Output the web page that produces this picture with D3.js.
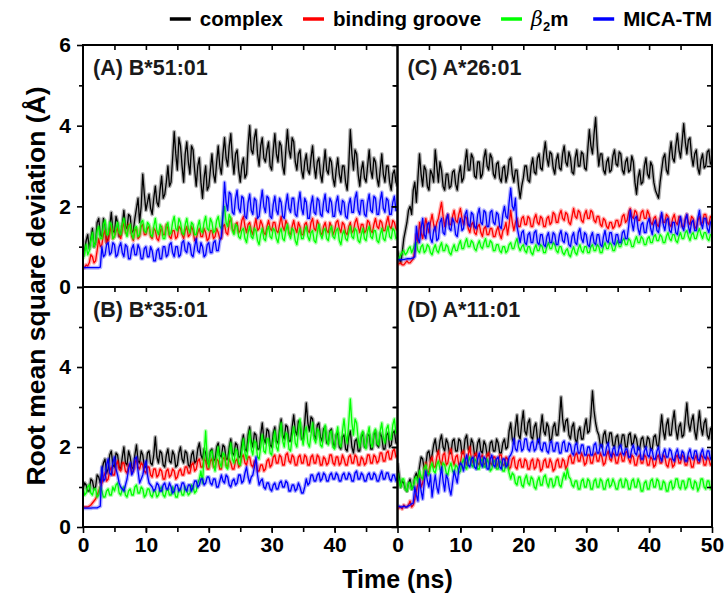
<!DOCTYPE html>
<html><head><meta charset="utf-8">
<script src="https://cdn.jsdelivr.net/npm/d3@7/dist/d3.min.js"></script>
<style>body{margin:0;background:#fff}svg text{font-family:"Liberation Sans",Arial,sans-serif;font-weight:bold}</style>
</head><body>
<svg id="chart" width="724" height="594"></svg>
<script>
// ---- tick labels / categories ----
const panelTitles = ["(A) B*51:01", "(B) B*35:01", "(C) A*26:01", "(D) A*11:01"];
const seriesNames = ["complex", "binding groove", "β2m", "MICA-TM"];
const seriesColors = ["#000000", "#ff0000", "#00ff00", "#0000ff"];
const xTickLabels = [0, 10, 20, 30, 40, 50];
const yTickLabelsTop = [0, 2, 4, 6];
const yTickLabelsBottom = [0, 2, 4];
const timeRange = [0, 50]; // ns; values below are read every 0.25 ns

// ---- (A) B*51:01 ----
const complexA = [0.75,0.9,1.15,1.3,0.95,1.2,1.45,1.0,1.1,1.6,1.7,1.3,1.25,1.7,1.55,1.1,1.2,1.5,1.85,1.4,1.35,1.75,1.6,1.25,1.3,1.55,1.9,1.5,1.45,1.8,1.75,1.35,1.4,1.7,1.95,2.2,1.6,2.0,2.8,2.3,1.9,2.1,2.3,1.95,1.8,2.2,2.5,2.1,2.0,2.4,2.75,2.2,2.3,2.6,3.0,2.5,2.6,3.2,3.85,3.3,2.9,3.7,3.5,3.0,2.6,3.3,3.6,3.1,2.8,3.5,3.4,2.9,2.5,3.0,3.2,2.6,2.2,2.7,3.0,2.4,2.5,2.9,3.3,2.8,2.6,3.1,3.5,3.0,2.8,3.3,3.7,3.2,3.0,3.5,3.8,3.2,2.8,3.3,3.4,2.9,2.6,3.0,3.2,2.7,2.8,3.5,4.0,3.4,3.3,3.7,3.9,3.3,3.0,3.5,3.7,3.2,3.1,3.4,3.6,3.0,2.9,3.4,3.8,3.3,3.1,3.6,3.5,3.0,2.8,3.4,3.9,3.4,3.2,3.7,3.6,3.1,2.9,3.3,3.4,2.9,2.7,3.1,3.3,2.9,2.8,3.2,3.5,3.0,2.7,3.1,3.2,2.8,2.6,3.0,3.4,2.9,2.8,3.2,3.1,2.7,2.5,2.9,3.2,2.8,2.6,3.0,3.0,2.6,2.4,3.0,3.9,3.3,2.9,3.4,3.3,2.8,2.5,2.9,3.1,2.7,2.6,3.0,3.4,2.9,2.7,3.2,3.1,2.7,2.5,2.9,3.3,2.8,2.6,3.0,3.0,2.6,2.4,2.8,2.9,2.6,2.5];
const grooveA = [0.5,0.48,0.55,0.52,0.6,0.8,0.75,0.6,0.65,0.9,1.2,1.0,1.05,1.3,1.4,1.1,1.15,1.35,1.5,1.2,1.25,1.4,1.45,1.3,1.2,1.45,1.6,1.35,1.3,1.55,1.5,1.25,1.15,1.4,1.45,1.2,1.25,1.5,1.55,1.3,1.3,1.45,1.5,1.25,1.2,1.45,1.4,1.2,1.15,1.35,1.5,1.3,1.3,1.55,1.45,1.25,1.2,1.4,1.4,1.2,1.25,1.5,1.45,1.3,1.2,1.4,1.5,1.25,1.3,1.5,1.4,1.15,1.2,1.35,1.45,1.25,1.25,1.45,1.35,1.15,1.2,1.4,1.4,1.2,1.25,1.45,1.35,1.2,1.2,1.5,1.55,1.35,1.3,1.6,1.7,1.45,1.35,1.55,1.6,1.35,1.4,1.65,1.75,1.5,1.35,1.55,1.6,1.4,1.3,1.5,1.7,1.4,1.45,1.65,1.55,1.35,1.3,1.5,1.65,1.45,1.4,1.6,1.6,1.4,1.35,1.55,1.75,1.5,1.4,1.65,1.55,1.35,1.3,1.5,1.65,1.45,1.35,1.6,1.5,1.3,1.3,1.55,1.6,1.4,1.35,1.6,1.7,1.45,1.4,1.65,1.55,1.35,1.3,1.5,1.6,1.4,1.35,1.6,1.5,1.3,1.4,1.6,1.65,1.45,1.35,1.6,1.55,1.35,1.3,1.5,1.6,1.35,1.4,1.6,1.7,1.5,1.35,1.55,1.55,1.35,1.4,1.65,1.6,1.4,1.35,1.55,1.7,1.5,1.45,1.65,1.6,1.4,1.4,1.6,1.75,1.5,1.45,1.65,1.6,1.45,1.4];
const b2mA = [0.7,0.85,1.05,0.8,0.9,1.15,1.35,1.0,1.1,1.4,1.5,1.2,1.2,1.55,1.65,1.3,1.3,1.6,1.55,1.2,1.25,1.45,1.6,1.35,1.3,1.55,1.7,1.4,1.25,1.5,1.55,1.3,1.2,1.45,1.5,1.25,1.3,1.6,1.65,1.4,1.35,1.6,1.55,1.3,1.25,1.5,1.7,1.4,1.3,1.55,1.45,1.2,1.2,1.5,1.6,1.3,1.35,1.6,1.75,1.45,1.4,1.7,1.6,1.35,1.3,1.55,1.7,1.45,1.35,1.6,1.55,1.3,1.3,1.5,1.65,1.4,1.35,1.6,1.75,1.45,1.4,1.7,1.6,1.35,1.4,1.65,1.75,1.5,1.45,1.8,2.0,1.6,1.5,1.8,1.7,1.4,1.3,1.55,1.5,1.25,1.2,1.4,1.45,1.2,1.1,1.35,1.5,1.25,1.2,1.45,1.4,1.15,1.05,1.3,1.45,1.2,1.15,1.4,1.5,1.25,1.2,1.45,1.4,1.2,1.1,1.35,1.45,1.2,1.15,1.4,1.55,1.3,1.2,1.45,1.4,1.15,1.05,1.3,1.45,1.2,1.2,1.4,1.5,1.25,1.15,1.35,1.4,1.15,1.1,1.35,1.55,1.3,1.2,1.4,1.45,1.2,1.15,1.4,1.5,1.25,1.2,1.4,1.45,1.15,1.05,1.3,1.4,1.2,1.15,1.35,1.5,1.25,1.2,1.45,1.4,1.15,1.1,1.3,1.45,1.2,1.15,1.4,1.5,1.25,1.2,1.4,1.4,1.15,1.1,1.3,1.45,1.2,1.15,1.35,1.5,1.25,1.2,1.45,1.4,1.2,1.25];
const micaA = [0.48,0.48,0.48,0.48,0.48,0.48,0.48,0.48,0.48,0.48,0.48,0.49,1.0,0.75,0.8,1.05,1.1,0.8,0.85,1.1,1.05,0.75,0.8,1.0,1.1,0.85,0.75,1.05,1.0,0.7,0.7,0.95,1.05,0.8,0.8,1.05,0.95,0.7,0.7,0.95,1.0,0.75,0.75,1.0,0.9,0.65,0.65,0.9,0.95,0.7,0.7,1.0,1.0,0.75,0.8,1.05,1.1,0.85,0.75,1.0,1.0,0.75,0.8,1.1,1.15,0.9,0.85,1.1,1.05,0.8,0.75,1.0,1.2,0.9,0.85,1.1,1.0,0.75,0.8,1.05,1.1,0.85,0.85,1.1,1.15,0.9,0.9,1.15,1.25,1.8,2.6,2.1,1.9,2.35,2.3,1.85,1.8,2.2,2.4,1.95,1.85,2.25,2.2,1.75,1.7,2.1,2.3,1.9,1.8,2.2,2.15,1.7,1.75,2.1,2.4,2.0,1.85,2.25,2.2,1.75,1.7,2.05,2.25,1.9,1.8,2.2,2.1,1.75,1.7,2.05,2.3,1.95,1.85,2.2,2.2,1.8,1.75,2.1,2.35,1.95,1.8,2.2,2.1,1.7,1.7,2.05,2.25,1.85,1.8,2.2,2.15,1.8,1.75,2.1,2.3,1.9,1.85,2.2,2.1,1.75,1.75,2.1,2.25,1.9,1.8,2.15,2.1,1.75,1.7,2.05,2.2,1.85,1.85,2.2,2.35,1.9,1.8,2.15,2.15,1.8,1.75,2.1,2.3,1.9,1.85,2.25,2.2,1.8,1.8,2.15,2.35,1.95,1.85,2.2,2.15,1.8,1.8,2.1,2.25,1.9,1.9];

// ---- (B) B*35:01 ----
const complexB = [0.95,1.1,1.05,0.9,0.9,1.2,1.15,0.95,1.0,1.3,1.25,1.1,1.4,1.6,1.7,1.35,1.45,1.8,1.9,1.55,1.5,1.85,1.8,1.5,1.45,1.75,2.0,1.6,1.55,1.9,1.75,1.5,1.45,1.8,2.05,1.65,1.6,1.9,1.8,1.5,1.5,1.85,1.9,1.6,1.55,1.8,2.25,1.75,1.6,1.9,1.85,1.55,1.5,1.8,1.95,1.65,1.6,1.9,1.8,1.5,1.55,1.85,2.0,1.7,1.6,1.9,1.85,1.55,1.5,1.8,1.9,1.6,1.65,1.95,2.1,1.8,1.7,1.95,1.85,1.6,1.6,1.9,1.95,1.65,1.7,2.0,2.1,1.8,1.75,2.05,2.0,1.7,1.7,2.0,2.2,1.85,1.8,2.1,2.05,1.75,1.75,2.1,2.3,1.95,1.9,2.3,2.5,2.15,2.0,2.35,2.3,1.95,1.95,2.3,2.6,2.2,2.1,2.45,2.4,2.05,2.0,2.35,2.5,2.15,2.1,2.45,2.7,2.3,2.2,2.55,2.5,2.15,2.15,2.5,2.8,2.4,2.3,2.65,2.6,2.2,2.2,2.6,3.1,2.6,2.4,2.75,2.7,2.3,2.2,2.55,2.6,2.25,2.15,2.45,2.5,2.1,2.1,2.4,2.45,2.1,2.0,2.3,2.35,2.0,1.95,2.25,2.3,1.95,1.9,2.25,2.4,2.0,1.85,2.15,2.2,1.9,1.9,2.25,2.35,2.0,2.0,2.3,2.3,1.95,1.95,2.3,2.4,2.05,2.0,2.35,2.25,1.95,1.95,2.3,2.35,2.0,2.05,2.35,2.4,2.1,2.1];
const grooveB = [0.5,0.5,0.5,0.5,0.52,0.55,0.6,0.65,0.7,0.8,0.9,1.0,1.1,1.25,1.35,1.15,1.2,1.4,1.5,1.3,1.3,1.55,1.65,1.45,1.4,1.6,1.6,1.4,1.35,1.55,1.55,1.35,1.4,1.6,1.7,1.5,1.45,1.6,1.55,1.4,1.35,1.5,1.5,1.3,1.25,1.45,1.45,1.25,1.3,1.45,1.4,1.2,1.2,1.4,1.45,1.25,1.3,1.45,1.4,1.2,1.25,1.4,1.45,1.3,1.3,1.5,1.5,1.35,1.35,1.55,1.6,1.4,1.45,1.65,1.7,1.5,1.5,1.7,1.65,1.45,1.45,1.65,1.7,1.5,1.5,1.7,1.65,1.45,1.45,1.7,1.75,1.55,1.5,1.7,1.6,1.45,1.45,1.65,1.7,1.5,1.55,1.75,1.8,1.6,1.55,1.75,1.75,1.55,1.5,1.65,1.6,1.4,1.4,1.55,1.55,1.4,1.45,1.65,1.7,1.5,1.55,1.75,1.8,1.6,1.6,1.8,1.75,1.55,1.55,1.8,1.85,1.65,1.6,1.8,1.75,1.55,1.55,1.75,1.8,1.6,1.6,1.8,1.75,1.55,1.55,1.75,1.8,1.6,1.6,1.8,1.75,1.55,1.55,1.75,1.7,1.55,1.6,1.8,1.8,1.6,1.55,1.75,1.75,1.55,1.6,1.8,1.7,1.55,1.55,1.75,1.8,1.6,1.6,1.8,1.75,1.55,1.55,1.75,1.7,1.55,1.6,1.8,1.8,1.6,1.6,1.8,1.75,1.6,1.65,1.85,1.85,1.65,1.65,1.85,1.9,1.7,1.7,1.9,1.95,1.75,1.8];
const b2mB = [1.0,0.8,0.85,1.0,1.05,0.85,0.8,0.95,0.95,0.75,0.8,1.0,0.9,0.75,0.75,0.9,0.95,0.8,0.8,1.0,0.9,1.05,1.1,0.85,0.8,0.95,1.0,0.8,0.75,0.9,0.95,0.8,0.8,1.0,1.05,0.85,0.85,1.0,0.95,0.75,0.8,0.95,0.95,0.8,0.75,0.9,0.9,0.75,0.8,0.95,1.0,0.8,0.75,0.9,0.95,0.8,0.8,1.0,0.9,0.75,0.75,0.95,0.95,0.8,0.8,1.0,0.9,0.8,0.85,1.05,1.0,0.85,0.9,1.1,1.2,1.4,1.1,1.8,2.4,1.7,1.5,1.85,1.9,1.55,1.4,1.75,2.0,1.6,1.5,1.85,1.8,1.5,1.45,1.8,2.1,1.7,1.6,1.95,1.9,1.6,1.55,1.9,2.2,1.85,1.7,2.05,2.4,1.95,1.8,2.15,2.1,1.75,1.7,2.0,2.3,1.9,1.85,2.2,2.2,1.85,1.8,2.15,2.4,2.0,1.9,2.3,2.6,2.15,2.0,2.35,2.3,1.95,1.9,2.25,2.5,2.1,2.0,2.4,2.7,2.3,2.05,2.35,2.5,2.1,2.0,2.3,2.6,2.2,2.1,2.45,2.4,2.05,2.0,2.3,2.55,2.2,2.05,2.35,2.4,2.0,1.95,2.3,2.5,2.1,2.0,2.4,2.7,2.3,2.1,2.6,3.2,2.6,2.3,2.7,2.6,2.2,2.0,2.3,2.4,2.05,1.95,2.3,2.5,2.1,2.0,2.35,2.45,2.1,2.05,2.4,2.6,2.25,2.1,2.45,2.55,2.2,2.2,2.55,2.7,2.35,2.4];
const micaB = [0.47,0.47,0.47,0.47,0.47,0.47,0.48,0.48,0.48,0.48,0.5,0.52,1.5,1.15,1.2,1.55,1.7,1.35,1.3,1.6,1.75,1.45,1.3,1.1,1.0,0.95,0.9,1.05,1.2,1.45,1.6,1.3,1.4,1.7,1.75,1.4,1.1,1.2,1.3,1.5,1.65,1.3,1.1,1.05,1.0,0.9,0.95,1.1,1.05,0.9,0.9,1.05,1.1,0.95,0.95,1.1,1.0,0.85,0.9,1.05,1.05,0.9,0.95,1.1,1.1,0.95,0.9,1.05,1.05,0.9,1.0,1.15,1.15,1.0,1.05,1.2,1.2,1.05,1.1,1.25,1.25,1.1,1.05,1.2,1.2,1.0,1.0,1.15,1.3,1.15,1.1,1.3,1.25,1.05,1.0,1.15,1.2,1.05,1.1,1.3,1.3,1.1,1.15,1.35,1.5,1.25,1.1,1.25,1.3,1.5,1.75,1.3,1.05,1.15,1.2,1.0,0.95,1.1,1.1,0.95,0.9,1.05,1.1,0.95,0.95,1.1,1.15,1.0,1.0,1.15,1.1,0.9,0.9,1.05,1.05,0.9,0.95,1.1,1.0,0.85,0.85,1.0,1.2,1.05,1.1,1.3,1.3,1.15,1.15,1.3,1.35,1.15,1.2,1.35,1.3,1.15,1.15,1.3,1.35,1.2,1.2,1.35,1.3,1.15,1.15,1.3,1.35,1.2,1.2,1.35,1.3,1.15,1.15,1.35,1.4,1.2,1.2,1.35,1.3,1.15,1.15,1.3,1.35,1.2,1.2,1.35,1.3,1.15,1.15,1.3,1.4,1.2,1.2,1.35,1.35,1.2,1.15,1.3,1.3,1.15,1.25];

// ---- (C) A*26:01 ----
const complexC = [0.9,0.7,0.6,0.85,1.2,1.4,1.6,1.9,2.0,1.8,2.4,2.6,2.1,2.7,3.3,2.8,2.5,3.0,2.9,2.5,2.4,2.9,2.8,2.6,3.4,3.0,2.6,3.1,2.9,2.5,2.4,2.8,2.8,2.45,2.5,2.85,2.9,2.55,2.4,2.8,3.0,2.6,2.7,3.1,3.4,2.9,2.9,3.3,3.2,2.75,2.7,3.1,3.1,2.7,2.8,3.2,3.4,3.0,2.9,3.3,3.2,2.8,2.7,3.05,3.1,2.7,2.6,2.95,3.0,2.6,2.8,3.15,3.2,2.8,2.6,2.9,2.9,2.5,2.2,2.5,2.7,3.0,3.0,2.65,2.6,3.0,3.2,2.85,2.8,3.2,3.3,2.95,2.9,3.3,3.6,3.2,3.0,3.35,3.3,2.95,2.8,3.15,3.3,2.95,2.9,3.3,3.5,3.1,3.0,3.35,3.2,2.85,2.8,3.2,3.4,3.0,3.0,3.35,3.3,2.95,2.9,3.4,3.9,3.5,3.3,3.8,4.2,3.5,3.0,3.3,3.3,2.9,2.8,3.1,3.2,2.85,2.9,3.25,3.4,3.05,3.0,3.35,3.3,2.9,2.8,3.1,3.2,2.85,2.9,3.25,3.1,2.6,2.3,2.7,2.9,2.55,2.6,3.0,3.2,2.8,2.7,3.1,3.0,2.6,2.4,2.3,2.2,2.6,2.9,3.2,3.3,2.9,2.8,3.3,3.6,3.2,3.1,3.5,3.8,3.4,3.2,3.6,4.05,3.6,3.3,3.65,3.7,3.25,3.0,3.3,3.4,2.95,2.8,3.15,3.3,2.95,3.0,3.35,3.4,3.05,3.1];
const grooveC = [0.55,0.58,0.6,0.55,0.55,0.6,0.65,0.6,0.6,0.65,0.7,0.9,1.3,1.1,1.6,1.35,1.2,1.45,1.7,1.5,1.35,1.6,1.8,1.55,1.4,1.6,1.7,1.9,2.1,1.75,1.5,1.7,1.8,1.55,1.55,1.75,1.9,1.65,1.6,1.8,1.95,1.7,1.55,1.75,1.7,1.45,1.35,1.55,1.6,1.35,1.3,1.5,1.55,1.35,1.25,1.45,1.5,1.3,1.3,1.45,1.45,1.25,1.25,1.4,1.5,1.3,1.2,1.4,1.45,1.6,1.3,1.55,1.9,1.6,1.4,1.6,1.7,1.5,1.5,1.7,1.75,1.55,1.55,1.75,1.7,1.5,1.5,1.7,1.8,1.6,1.55,1.75,1.7,1.5,1.5,1.7,1.75,1.55,1.6,1.85,1.8,1.6,1.6,1.8,1.9,1.7,1.65,1.85,1.8,1.6,1.55,1.75,1.95,1.75,1.7,1.9,1.85,1.65,1.6,1.8,1.9,1.7,1.7,1.9,1.85,1.65,1.6,1.75,1.75,1.55,1.5,1.7,1.65,1.5,1.45,1.6,1.6,1.45,1.5,1.65,1.65,1.5,1.55,1.75,1.8,1.6,1.65,1.85,1.95,1.75,1.7,1.9,1.85,1.65,1.65,1.85,1.9,1.7,1.7,1.9,1.8,1.6,1.55,1.7,1.75,1.55,1.5,1.7,1.8,1.6,1.6,1.8,1.75,1.55,1.5,1.7,1.8,1.6,1.55,1.75,1.7,1.5,1.5,1.7,1.8,1.6,1.55,1.75,1.7,1.5,1.45,1.65,1.75,1.55,1.6,1.8,1.8,1.6,1.55,1.75,1.7];
const b2mC = [0.75,0.7,0.8,0.85,0.9,0.8,0.85,0.95,1.0,0.85,0.95,1.05,1.1,0.9,0.85,1.0,1.05,0.85,0.9,1.05,1.0,0.85,0.8,0.95,1.05,0.9,0.85,1.0,1.1,0.9,0.9,1.05,1.0,0.85,0.8,0.95,1.05,0.9,0.9,1.05,1.15,0.95,0.95,1.1,1.2,1.0,1.0,1.15,1.1,0.95,0.9,1.05,1.15,1.0,0.95,1.1,1.2,1.0,1.0,1.15,1.1,0.9,0.9,1.05,1.05,0.9,0.85,1.0,1.0,0.85,0.9,1.05,1.1,0.95,0.95,1.1,1.2,1.0,0.9,1.0,1.05,0.9,0.85,1.0,1.0,0.85,0.8,0.95,1.05,0.9,0.9,1.05,1.0,0.85,0.85,1.0,1.1,0.95,0.95,1.1,1.05,0.9,0.85,1.0,1.0,0.85,0.8,0.9,0.95,0.8,0.75,0.9,1.0,0.85,0.8,0.95,1.05,0.9,0.85,1.0,1.0,0.85,0.85,1.0,1.05,0.9,0.9,1.05,1.0,0.85,0.85,1.0,1.1,0.95,0.95,1.1,1.05,0.9,0.9,1.05,1.15,1.0,1.0,1.15,1.2,1.05,1.05,1.2,1.15,1.0,1.0,1.15,1.25,1.1,1.1,1.25,1.2,1.05,1.05,1.2,1.25,1.1,1.1,1.25,1.3,1.15,1.15,1.3,1.25,1.1,1.1,1.25,1.35,1.2,1.15,1.3,1.3,1.15,1.1,1.25,1.35,1.2,1.2,1.35,1.4,1.25,1.15,1.3,1.35,1.2,1.2,1.35,1.45,1.3,1.2,1.35,1.35,1.2,1.15,1.3,1.3];
const micaC = [0.68,0.68,0.68,0.68,0.68,0.69,0.7,0.7,0.7,0.71,0.72,0.75,1.5,1.2,1.1,1.45,1.7,1.3,1.2,1.55,1.6,1.2,1.1,1.4,1.5,1.15,1.2,1.6,1.7,1.35,1.3,1.65,1.8,1.45,1.4,1.7,1.6,1.3,1.25,1.55,1.7,1.4,1.45,1.8,1.9,1.55,1.5,1.85,1.8,1.5,1.45,1.8,1.95,1.6,1.55,1.9,1.85,1.5,1.5,1.85,1.9,1.6,1.55,1.85,1.8,1.5,1.45,1.8,2.0,1.75,1.7,2.1,2.45,2.0,1.9,2.2,1.5,1.3,1.1,1.35,1.4,1.1,1.05,1.3,1.35,1.1,1.1,1.35,1.4,1.1,1.05,1.3,1.3,1.05,1.0,1.25,1.35,1.1,1.1,1.35,1.3,1.05,1.05,1.3,1.4,1.15,1.1,1.35,1.3,1.05,1.0,1.25,1.35,1.1,1.05,1.35,1.45,1.2,1.1,1.35,1.3,1.05,1.0,1.25,1.35,1.1,1.05,1.3,1.3,1.05,1.0,1.25,1.4,1.15,1.1,1.35,1.35,1.1,1.05,1.3,1.3,1.1,1.1,1.35,1.4,1.2,1.2,1.5,1.9,1.6,1.4,1.7,1.75,1.45,1.3,1.55,1.6,1.35,1.35,1.6,1.7,1.45,1.3,1.55,1.65,1.4,1.35,1.6,1.85,1.55,1.4,1.65,1.7,1.4,1.35,1.6,1.6,1.35,1.3,1.55,1.75,1.5,1.4,1.65,1.8,1.5,1.35,1.6,1.65,1.4,1.4,1.7,1.9,1.6,1.45,1.7,1.7,1.45,1.35,1.6,1.65];

// ---- (D) A*11:01 ----
const complexD = [1.6,1.3,1.0,1.15,1.1,0.95,0.9,1.1,1.2,0.95,1.0,1.25,1.35,1.2,1.5,1.75,1.7,1.45,1.55,1.85,1.9,1.65,1.8,2.05,2.2,1.9,1.85,2.15,2.3,2.0,1.9,2.2,2.1,1.85,1.85,2.15,2.2,1.9,1.9,2.2,2.15,1.85,1.85,2.2,2.3,1.95,1.9,2.2,2.1,1.8,1.8,2.1,2.2,1.9,1.85,2.15,2.05,1.8,1.8,2.1,2.15,1.9,1.9,2.2,2.1,1.85,1.85,2.1,2.2,1.95,2.0,2.4,2.6,2.2,2.1,2.5,2.8,2.3,2.2,2.6,2.9,2.4,2.3,2.6,2.7,2.25,2.2,2.5,2.6,2.2,2.1,2.45,2.8,2.4,2.3,2.6,2.5,2.15,2.2,2.5,2.6,2.3,2.3,2.7,3.25,2.7,2.4,2.65,2.7,2.3,2.2,2.5,2.6,2.2,2.1,2.4,2.5,2.2,2.2,2.5,2.7,2.35,2.4,2.8,3.4,2.9,2.6,2.4,2.3,2.05,2.0,2.3,2.4,2.1,2.1,2.35,2.35,2.05,2.0,2.25,2.3,2.0,2.05,2.3,2.3,2.0,2.0,2.3,2.35,2.05,2.1,2.3,2.2,1.95,1.95,2.2,2.25,2.0,2.0,2.25,2.2,1.95,1.95,2.25,2.3,2.05,2.0,2.4,2.8,2.4,2.2,2.55,2.7,2.3,2.3,2.65,2.9,2.45,2.2,2.5,2.6,2.25,2.3,2.7,3.1,2.6,2.4,2.65,2.8,2.4,2.2,2.55,2.9,2.5,2.3,2.6,2.7,2.3,2.2,2.45,2.5];
const grooveD = [0.45,0.48,0.5,0.45,0.55,0.5,0.5,0.55,0.65,0.5,0.55,0.7,0.9,1.1,1.3,1.0,1.1,1.4,1.6,1.3,1.4,1.65,1.75,1.5,1.5,1.75,1.9,1.65,1.55,1.8,1.85,1.55,1.6,1.85,1.95,1.7,1.55,1.75,1.8,1.55,1.6,1.85,1.9,1.65,1.55,1.8,2.0,1.7,1.6,1.8,1.85,1.6,1.55,1.75,1.8,1.55,1.6,1.8,1.85,1.6,1.55,1.75,1.75,1.5,1.6,1.8,1.8,1.55,1.55,1.75,1.7,1.45,1.5,1.7,1.75,1.5,1.45,1.65,1.7,1.5,1.5,1.7,1.65,1.45,1.45,1.65,1.7,1.45,1.5,1.7,1.65,1.4,1.45,1.65,1.7,1.5,1.5,1.7,1.6,1.4,1.45,1.65,1.7,1.5,1.5,1.7,1.65,1.45,1.55,1.75,1.8,1.6,1.6,1.8,1.85,1.65,1.65,1.85,1.75,1.55,1.6,1.8,1.8,1.6,1.6,1.8,1.85,1.65,1.65,1.85,1.75,1.55,1.6,1.8,1.9,1.7,1.65,1.85,1.8,1.6,1.6,1.8,1.85,1.65,1.65,1.85,1.9,1.7,1.6,1.8,1.75,1.55,1.55,1.75,1.8,1.6,1.6,1.8,1.75,1.55,1.55,1.75,1.7,1.5,1.55,1.75,1.8,1.6,1.6,1.8,1.75,1.55,1.5,1.7,1.7,1.5,1.55,1.75,1.8,1.6,1.6,1.8,1.75,1.55,1.55,1.75,1.7,1.5,1.5,1.7,1.8,1.6,1.6,1.8,1.75,1.55,1.55,1.75,1.7,1.55,1.6];
const b2mD = [1.35,1.15,1.0,1.2,1.2,0.95,0.9,1.1,1.1,0.95,1.0,1.2,1.25,1.1,1.4,1.25,1.2,1.45,1.55,1.35,1.3,1.5,1.6,1.4,1.35,1.55,1.65,1.45,1.4,1.6,1.55,1.35,1.3,1.5,1.6,1.4,1.35,1.55,1.5,1.35,1.4,1.6,1.7,1.5,1.45,1.65,1.75,1.55,1.5,1.7,1.65,1.45,1.45,1.65,1.7,1.5,1.5,1.7,1.6,1.4,1.45,1.65,1.65,1.45,1.45,1.65,1.6,1.4,1.4,1.6,1.55,1.35,1.2,1.35,1.3,1.1,1.05,1.25,1.25,1.05,1.0,1.2,1.3,1.1,1.05,1.25,1.2,1.0,0.95,1.15,1.25,1.05,1.05,1.25,1.3,1.1,1.0,1.2,1.2,1.0,1.05,1.25,1.25,1.05,1.0,1.2,1.35,1.2,1.45,1.25,1.2,1.05,1.0,1.15,1.15,0.95,0.95,1.15,1.2,1.0,1.0,1.2,1.15,0.95,0.95,1.15,1.2,1.0,1.0,1.2,1.15,0.95,0.95,1.15,1.2,1.0,1.05,1.2,1.1,0.95,0.95,1.15,1.2,1.0,1.0,1.2,1.15,0.95,0.95,1.15,1.2,1.0,1.0,1.2,1.1,0.9,0.9,1.1,1.15,0.95,0.95,1.15,1.2,1.0,1.0,1.2,1.15,0.95,0.95,1.15,1.1,0.9,0.9,1.1,1.15,0.95,1.0,1.2,1.2,1.0,0.95,1.15,1.15,0.95,1.0,1.2,1.2,1.0,0.95,1.15,1.1,0.9,1.0,1.2,1.2,1.0,0.95,1.15,1.15,0.95,1.05];
const micaD = [0.5,0.52,0.5,0.5,0.52,0.5,0.5,0.53,0.55,0.58,0.6,1.0,0.8,0.65,1.2,0.9,0.7,1.1,1.4,1.15,1.0,1.3,0.75,1.05,1.3,1.0,0.85,1.2,1.5,1.15,0.9,1.3,1.2,0.95,0.8,1.1,1.4,1.25,1.1,1.45,1.6,1.55,1.4,1.65,1.8,1.55,1.5,1.7,1.75,1.5,1.45,1.7,1.85,1.6,1.5,1.75,1.7,1.45,1.45,1.7,1.8,1.55,1.5,1.7,1.75,1.5,1.45,1.7,1.7,1.5,1.55,1.75,1.8,1.9,2.2,1.95,1.9,2.15,2.15,1.9,1.95,2.2,2.2,1.95,1.9,2.1,2.15,1.9,1.95,2.15,2.2,1.95,1.9,2.1,2.1,1.9,1.85,2.1,2.15,1.9,1.9,2.1,2.1,1.85,1.85,2.1,2.15,1.9,1.9,2.1,2.05,1.85,1.8,2.05,2.1,1.85,1.85,2.05,2.05,1.8,1.8,2.0,2.0,1.8,1.8,2.05,2.1,1.85,1.85,2.05,2.05,1.8,1.8,2.0,2.1,1.85,1.75,1.95,2.0,1.8,1.8,2.0,2.05,1.85,1.8,1.95,1.95,1.75,1.75,1.95,2.05,1.85,1.8,2.0,1.95,1.7,1.7,1.9,2.0,1.8,1.75,1.95,1.9,1.7,1.7,1.9,2.0,1.75,1.65,1.85,1.95,1.75,1.75,1.95,1.9,1.7,1.65,1.85,1.95,1.75,1.7,1.9,1.85,1.65,1.65,1.85,1.95,1.75,1.7,1.9,1.9,1.7,1.65,1.85,1.95,1.75,1.7,1.9,1.9,1.7,1.75];

const panelData = [
  [complexA, grooveA, b2mA, micaA],
  [complexB, grooveB, b2mB, micaB],
  [complexC, grooveC, b2mC, micaC],
  [complexD, grooveD, b2mD, micaD]
];

// ---- layout ----
const svg = d3.select("#chart");
const FONT = 21;
const L = 83, M = 397.5, R = 712, T = 45, MID = 287, B = 527;
const colX = [[L, M], [M, R]];
const rowY = [[MID, T], [B, MID]];
const panelPos = [[0,0],[0,1],[1,0],[1,1]]; // A, B, C, D

panelPos.forEach(([c, r], pi) => {
  const x = d3.scaleLinear().domain(timeRange).range(colX[c]);
  const y = d3.scaleLinear().domain([0, 6]).range(rowY[r]);
  const g = svg.append("g");
  const clipId = "clip" + pi;
  svg.append("clipPath").attr("id", clipId).append("rect")
    .attr("x", colX[c][0]).attr("y", rowY[r][1])
    .attr("width", colX[c][1] - colX[c][0]).attr("height", rowY[r][0] - rowY[r][1]);
  const lg = g.append("g").attr("clip-path", `url(#${clipId})`);
  panelData[pi].forEach((vals, si) => {
    const idxToTime = d3.scaleLinear().domain([0, vals.length - 1]).range(timeRange);
    const line = d3.line().x((d, i) => x(idxToTime(i))).y(d => y(d));
    // soft halo + core stroke to mimic the dense noisy traces
    lg.append("path").datum(vals).attr("d", line)
      .attr("fill", "none").attr("stroke", seriesColors[si])
      .attr("stroke-width", 4).attr("stroke-opacity", 0.3).attr("stroke-linejoin", "round");
    lg.append("path").datum(vals).attr("d", line)
      .attr("fill", "none").attr("stroke", seriesColors[si])
      .attr("stroke-width", 1.3).attr("stroke-linejoin", "round");
  });
  g.append("rect").attr("x", colX[c][0]).attr("y", rowY[r][1])
    .attr("width", colX[c][1] - colX[c][0]).attr("height", rowY[r][0] - rowY[r][1])
    .attr("fill", "none").attr("stroke", "#000").attr("stroke-width", 2);
  g.append("text").attr("x", x(0) + 10).attr("y", y(6) + 30)
    .attr("font-size", 21.5).attr("fill", "#1a1a1a").text(panelTitles[pi]);

  const noDomain = sel => sel.select(".domain").remove();
  const styleTicks = sel => { sel.selectAll("line").attr("stroke", "#000").attr("stroke-width", 1.6); };
  const yLabels = r === 0 ? yTickLabelsTop : yTickLabelsBottom;
  const lt = g.append("g").attr("transform", `translate(${colX[c][0]},0)`)
    .call(d3.axisLeft(y).tickValues([0,2,4,6]).tickSize(6)
      .tickFormat(d => (c === 0 && yLabels.includes(d)) ? d : ""));
  noDomain(lt); styleTicks(lt);
  lt.selectAll("text").attr("font-size", FONT).attr("fill", "#000").attr("dx", "-3");
  const lm = g.append("g").attr("transform", `translate(${colX[c][0]},0)`)
    .call(d3.axisLeft(y).tickValues([1,3,5]).tickSize(4).tickFormat(""));
  noDomain(lm); styleTicks(lm);
  const rt = g.append("g").attr("transform", `translate(${colX[c][1]},0)`)
    .call(d3.axisRight(y).tickValues([1,2,3,4,5]).tickSize(-5).tickFormat(""));
  noDomain(rt); styleTicks(rt);
  if (r === 0) {
    const tt = g.append("g").attr("transform", `translate(0,${rowY[r][1]})`)
      .call(d3.axisTop(x).tickValues(d3.range(5, 50, 5)).tickSize(-5).tickFormat(""));
    noDomain(tt); styleTicks(tt);
  }
  const bt = g.append("g").attr("transform", `translate(0,${rowY[r][0]})`)
    .call(d3.axisBottom(x).tickValues(d3.range(5, 50, 5)).tickSize(5).tickFormat(""));
  noDomain(bt); styleTicks(bt);
  if (r === 1) {
    const labels = c === 0 ? xTickLabels.slice(0, 5) : xTickLabels;
    const bl = g.append("g").attr("transform", `translate(0,${rowY[r][0]})`)
      .call(d3.axisBottom(x).tickValues(labels).tickSize(6).tickPadding(4));
    noDomain(bl); styleTicks(bl);
    bl.selectAll("text").attr("font-size", FONT).attr("fill", "#000");
  }
});

// axis titles
svg.append("text").attr("transform", `translate(45,${(T + B) / 2}) rotate(-90)`)
  .attr("text-anchor", "middle").attr("font-size", 26.5).attr("fill", "#000")
  .text("Root mean square deviation  (Å)");
svg.append("text").attr("x", M).attr("y", 588).attr("text-anchor", "middle")
  .attr("font-size", 25).attr("fill", "#000").text("Time (ns)");

// legend (right-aligned with the frame)
const LFONT = 20.5;
const legend = svg.append("g").attr("transform", `translate(${R},26)`);
const widths = seriesNames.map((n, i) => {
  const t = legend.append("text").attr("font-size", LFONT).text(i === 2 ? "β2m" : n);
  const w = t.node().getComputedTextLength(); t.remove(); return w;
});
const dashW = 21, gapDT = 9, gapItem = 20;
let total = 0;
widths.forEach((w, i) => { total += dashW + gapDT + w + (i < 3 ? gapItem : 0); });
let xPos = -total;
seriesNames.forEach((n, i) => {
  legend.append("line").attr("x1", xPos).attr("x2", xPos + dashW).attr("y1", -7).attr("y2", -7)
    .attr("stroke", seriesColors[i]).attr("stroke-width", 3.5);
  const t = legend.append("text").attr("x", xPos + dashW + gapDT).attr("y", 0)
    .attr("font-size", LFONT).attr("fill", "#000");
  if (i === 2) {
    t.append("tspan").attr("font-style", "italic").attr("font-family", "'DejaVu Serif',serif").attr("font-weight", "normal").text("β");
    t.append("tspan").attr("font-size", 13).attr("dy", 5).text("2");
    t.append("tspan").attr("dy", -5).text("m");
  } else t.text(n);
  xPos += dashW + gapDT + widths[i] + gapItem;
});
</script>
</body></html>
